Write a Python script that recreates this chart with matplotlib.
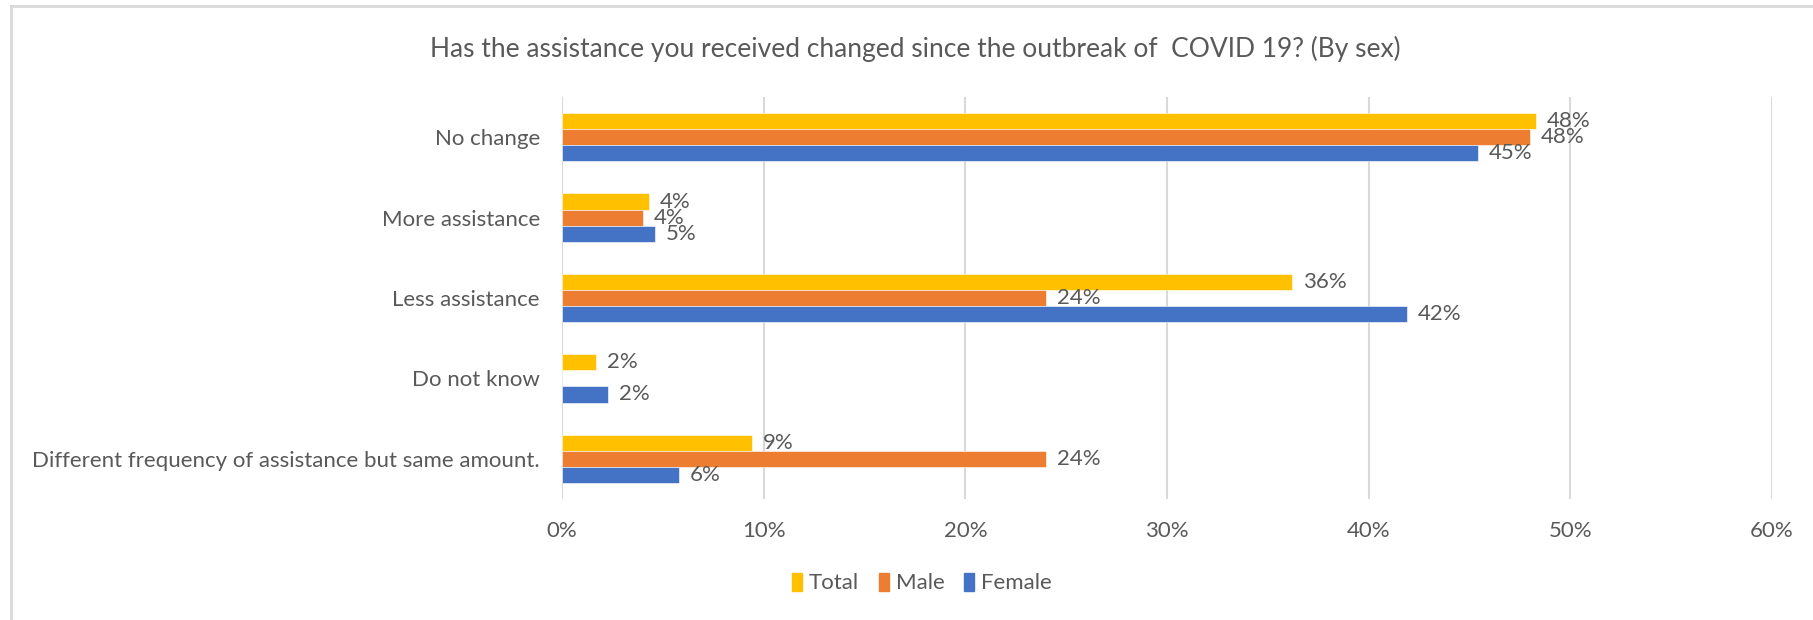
import numpy as np
import matplotlib
matplotlib.use("Agg")
import matplotlib.pyplot as plt
from matplotlib.lines import Line2D
from matplotlib.patches import Patch

plt.rcParams['font.family'] = ['Lato', 'DejaVu Sans']

categories = [
    "No change",
    "More assistance",
    "Less assistance",
    "Do not know",
    "Different frequency of assistance but same amount.",
]
series_names = ["Total", "Male", "Female"]
total = [48.3, 4.3, 36.2, 1.7, 9.4]
male = [48.0, 4.0, 24.0, 0.0, 24.0]
female = [45.4, 4.6, 41.9, 2.3, 5.8]
colors = ["#FFC000", "#ED7D31", "#4472C4"]
xticks = [0, 10, 20, 30, 40, 50, 60]
title = "Has the assistance you received changed since the outbreak of  COVID 19? (By sex)"

text_color = "#595959"
grid_color = "#D9D9D9"
fs = 16

W, H = 1813, 620
fig = plt.figure(figsize=(W / 100, H / 100), dpi=100)
ax = fig.add_axes([562 / W, 1 - 499 / H, (1772 - 562) / W, (499 - 97) / H])

y = np.arange(len(categories))
bar_h = 0.2
offsets = [-bar_h, 0.0, bar_h]
for vals, name, col, off in zip([total, male, female], series_names, colors, offsets):
    bars = ax.barh(y + off, vals, height=bar_h, color=col, label=name,
                   edgecolor="white", linewidth=0.4, zorder=3)
    for rect, v in zip(bars, vals):
        if v > 0:
            ax.annotate(f"{v:.0f}%", (rect.get_width(), rect.get_y() + rect.get_height() / 2),
                        xytext=(8, 0), textcoords="offset points",
                        ha="left", va="center", fontsize=fs, color=text_color, zorder=4)

ax.set_xlim(0, 60)
ax.set_ylim(len(categories) - 0.5, -0.5)
ax.set_xticks(xticks)
ax.set_xticklabels([f"{t}%" for t in xticks])
ax.set_yticks(y)
ax.set_yticklabels(categories)
ax.tick_params(axis="both", length=0, labelsize=fs, labelcolor=text_color)
ax.tick_params(axis="x", pad=16)
ax.tick_params(axis="y", pad=16)
ax.xaxis.grid(True, color=grid_color, linewidth=1.5, zorder=0)
ax.set_axisbelow(True)
for s in ax.spines.values():
    s.set_visible(False)

fig.text(915 / W, 1 - 49 / H, title, ha="center", va="center", fontsize=19, color=text_color)

handles = [Patch(facecolor=c, edgecolor=c) for c in colors]
fig.legend(handles, series_names, loc="center", bbox_to_anchor=(922 / W, 1 - 583 / H),
           ncol=3, frameon=False, fontsize=fs, labelcolor=text_color,
           handletextpad=0.3, columnspacing=0.9, handlelength=0.45, handleheight=0.9)

# outer chart frame (top and left edges)
fig.add_artist(Line2D([10.5 / W, 1], [1 - 6 / H, 1 - 6 / H], color="#D9D9D9", linewidth=2,
                      transform=fig.transFigure))
fig.add_artist(Line2D([10.5 / W, 10.5 / W], [0, 1 - 6 / H], color="#D9D9D9", linewidth=2,
                      transform=fig.transFigure))

fig.savefig("out.png", dpi=100, facecolor="white")
